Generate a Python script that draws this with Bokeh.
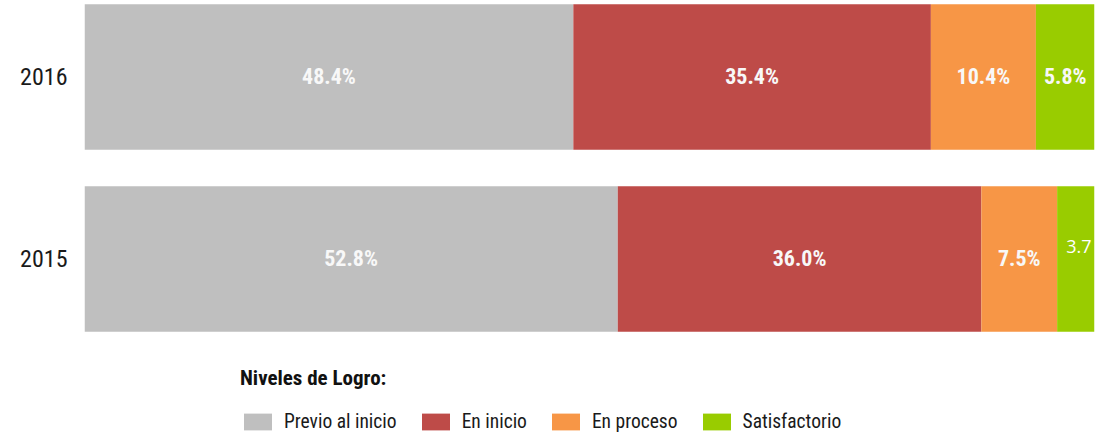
import numpy as np
from bokeh.plotting import figure
from bokeh.models import ColumnDataSource, Legend, LegendItem, FixedTicker, Range1d
from bokeh.core.properties import value
from bokeh.embed import file_html
from bokeh.resources import INLINE

years = ["2016", "2015"]
previo = [48.4, 52.8]
inicio = [35.4, 36.0]
proceso = [10.4, 7.5]
satisf = [5.8, 3.7]
series_names = ["Previo al inicio", "En inicio", "En proceso", "Satisfactorio"]
colors = ["#BFBFBF", "#BE4B48", "#F79646", "#99CC00"]
legend_title = "Niveles de Logro:"

ypos = [1, 0]
keys = ["previo", "inicio", "proceso", "satisf"]
src = ColumnDataSource(dict(y=ypos, previo=previo, inicio=inicio, proceso=proceso, satisf=satisf))

p = figure(width=1117, height=436, output_backend="svg", toolbar_location=None,
           x_range=Range1d(0, 100), y_range=Range1d(-0.9753, 1.4203),
           min_border_left=84, min_border_right=23, min_border_top=0, min_border_bottom=0,
           frame_width=1010, frame_height=436)

rs = p.hbar_stack(keys, y="y", height=0.80, color=colors, source=src, line_color=None)

# labels
vals = np.array([previo, inicio, proceso, satisf])  # series x years
cum = np.cumsum(vals, axis=0)
starts = cum - vals
centers = starts + vals / 2
lx, ly, lt = [], [], []
for si in range(vals.shape[0]):
    for yi in range(vals.shape[1]):
        if si == 3 and years[yi] == "2015":
            continue
        lx.append(centers[si, yi]); ly.append(ypos[yi]); lt.append(f"{vals[si, yi]:.1f}%")
p.text(x=lx, y=ly, text=lt, text_align="center", text_baseline="middle",
       text_color="#F8F8F8", text_font=value("Roboto Condensed"), text_font_style="bold",
       text_font_size="22px")

yi = years.index("2015")
p.text(x=[starts[3, yi]], y=[ypos[yi]], text=[f"{vals[3, yi]:.1f}"], text_align="left",
       text_baseline="middle", x_offset=9, y_offset=-12, text_color="white",
       text_font=value("Open Sans"), text_font_size="18px")

p.xaxis.visible = False
p.yaxis.ticker = FixedTicker(ticks=ypos)
p.yaxis.major_label_overrides = {ypos[i]: years[i] for i in range(len(years))}
p.yaxis.axis_line_color = None
p.yaxis.major_tick_line_color = None
p.yaxis.minor_tick_line_color = None
p.yaxis.major_tick_out = 0
p.yaxis.major_label_standoff = 17
p.yaxis.major_label_text_font = "Roboto Condensed"
p.yaxis.major_label_text_font_size = "24px"
p.yaxis.major_label_text_color = "#1a1a1a"
p.xgrid.visible = False
p.ygrid.visible = False
p.outline_line_color = None

legend = Legend(items=[LegendItem(label=series_names[i], renderers=[rs[i]]) for i in range(4)],
                orientation="horizontal", location=(156, 3), title=legend_title,
                title_text_font="Roboto Condensed", title_text_font_style="bold",
                title_text_font_size="21px", title_text_color="#111111", title_standoff=20,
                label_text_font="Roboto Condensed", label_text_font_size="19.5px",
                label_text_color="#1a1a1a", glyph_width=35, glyph_height=21,
                label_standoff=9, spacing=21, padding=0, margin=0,
                border_line_color=None, background_fill_alpha=0)
p.add_layout(legend, "center")

open("out.html", "w").write(file_html(p, INLINE))
